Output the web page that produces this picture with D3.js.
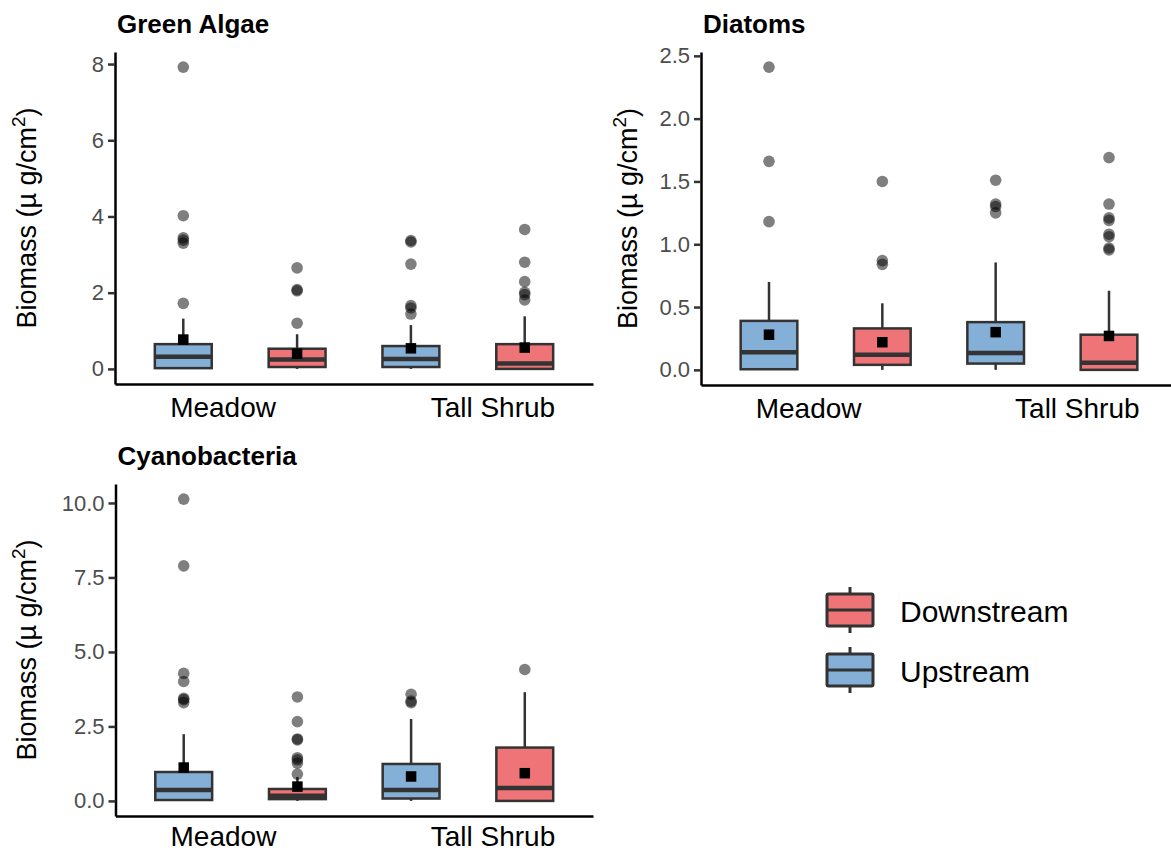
<!DOCTYPE html>
<html>
<head>
<meta charset="utf-8">
<script src="https://cdn.jsdelivr.net/npm/d3@7"></script>
<style>
  html, body { margin: 0; padding: 0; background: #ffffff; }
  svg { display: block; font-family: "Liberation Sans", Arial, Helvetica, sans-serif; }
</style>
</head>
<body>
<svg id="chart" width="1171" height="852"></svg>
<script>
// ---- groups along each panel's x axis (one box per site x stream) ----
const sites   = ["Meadow", "Meadow", "Tall Shrub", "Tall Shrub"];
const streams = ["Upstream", "Downstream", "Upstream", "Downstream"];
const siteLabels  = ["Meadow", "Tall Shrub"];
const siteLabelAt = [1.345, 3.716];          // x-axis label positions (group units)
const legendStreams = ["Downstream", "Upstream"];

// ---- Green Algae (µg/cm²) ----
const gaLow   = [0, 0, 0, 0];
const gaQ1    = [0.02, 0.05, 0.05, 0.00];
const gaMed   = [0.32, 0.25, 0.26, 0.14];
const gaQ3    = [0.65, 0.53, 0.60, 0.65];
const gaHigh  = [1.32, 0.91, 1.15, 1.38];
const gaMean  = [0.77, 0.40, 0.54, 0.56];
const gaOut   = [
  [7.92, 4.02, 3.44, 3.38, 3.30, 1.72],
  [2.65, 2.08, 2.05, 1.20],
  [3.37, 3.33, 2.75, 1.66, 1.60, 1.44],
  [3.66, 2.80, 2.29, 2.01, 1.95, 1.81]
];
const gaTicks = [0, 2, 4, 6, 8];

// ---- Diatoms ----
const diLow   = [0, 0, 0, 0];
const diQ1    = [0.005, 0.04, 0.05, 0.00];
const diMed   = [0.14, 0.12, 0.135, 0.056];
const diQ3    = [0.39, 0.33, 0.38, 0.28];
const diHigh  = [0.70, 0.53, 0.855, 0.63];
const diMean  = [0.28, 0.22, 0.30, 0.27];
const diOut   = [
  [2.41, 1.66, 1.18],
  [1.50, 0.87, 0.84],
  [1.51, 1.32, 1.30, 1.25],
  [1.69, 1.32, 1.21, 1.19, 1.08, 1.06, 0.97, 0.955]
];
const diTicks = [0, 0.5, 1.0, 1.5, 2.0, 2.5];

// ---- Cyanobacteria ----
const cyLow   = [0, 0, 0, 0];
const cyQ1    = [0.03, 0.06, 0.08, 0.00];
const cyMed   = [0.37, 0.17, 0.37, 0.43];
const cyQ3    = [0.97, 0.40, 1.24, 1.79];
const cyHigh  = [2.24, 0.80, 2.75, 3.65];
const cyMean  = [1.12, 0.48, 0.82, 0.93];
const cyOut   = [
  [10.13, 7.89, 4.28, 4.01, 3.44, 3.40, 3.30],
  [3.49, 2.66, 2.08, 2.05, 1.45, 1.38, 1.27, 0.90],
  [3.58, 3.35, 3.30],
  [4.41]
];
const cyTicks = [0, 2.5, 5.0, 7.5, 10.0];

// ---- styling ----
const fillFor = { Upstream: "#84AFD6", Downstream: "#EF7477" };
const lineCol = "#333333";
const tickTextCol = "#4D4D4D";

const svg = d3.select("#chart");

function buildBoxes(low, q1, med, q3, high, mean, out) {
  return sites.map((s, i) => ({
    pos: i + 1, site: s, stream: streams[i],
    low: low[i], q1: q1[i], med: med[i], q3: q3[i], high: high[i],
    mean: mean[i], out: out[i]
  }));
}

const panels = [
  { title: "Green Algae", boxes: buildBoxes(gaLow, gaQ1, gaMed, gaQ3, gaHigh, gaMean, gaOut),
    ticks: gaTicks, fmt: d3.format("d"),
    x0: 115, x1: 593, y0: 52, y1: 384, titleY: 33, yTitleX: 36, xLabDy: 33 },
  { title: "Diatoms", boxes: buildBoxes(diLow, diQ1, diMed, diQ3, diHigh, diMean, diOut),
    ticks: diTicks, fmt: d3.format(".1f"),
    x0: 701, x1: 1177, y0: 52, y1: 385, titleY: 33, yTitleX: 637, xLabDy: 33 },
  { title: "Cyanobacteria", boxes: buildBoxes(cyLow, cyQ1, cyMed, cyQ3, cyHigh, cyMean, cyOut),
    ticks: cyTicks, fmt: d3.format(".1f"),
    x0: 115.5, x1: 593, y0: 484, y1: 816, titleY: 465, yTitleX: 36, xLabDy: 30 }
];

function drawPanel(p) {
  const g = svg.append("g");
  const x = d3.scaleLinear().domain([0.4, 4.6]).range([p.x0, p.x1]);
  const allVals = p.boxes.flatMap(b => [b.low, b.high, b.mean, ...b.out]);
  const lo = d3.min(allVals), hi = d3.max(allVals);
  const pad = (hi - lo) * 0.05;
  const y = d3.scaleLinear().domain([lo - pad, hi + pad]).range([p.y1, p.y0]);
  const halfW = (x(1.25) - x(1));

  // title
  g.append("text")
    .attr("x", p.x0 + 2).attr("y", p.titleY)
    .attr("font-size", 26).attr("font-weight", "bold").attr("fill", "#000")
    .text(p.title);

  // y axis
  const yAxis = g.append("g")
    .attr("transform", `translate(${p.x0},0)`)
    .call(d3.axisLeft(y).tickValues(p.ticks).tickFormat(p.fmt)
      .tickSize(7).tickSizeOuter(0).tickPadding(4));
  yAxis.select(".domain").attr("stroke", "#000").attr("stroke-width", 2.5);
  yAxis.selectAll(".tick line").attr("stroke", lineCol).attr("stroke-width", 2.5);
  yAxis.selectAll(".tick text").attr("fill", tickTextCol)
    .attr("font-size", 22).attr("font-family", null);

  // x axis
  const xAxis = g.append("g")
    .attr("transform", `translate(0,${p.y1})`)
    .call(d3.axisBottom(x).tickValues(siteLabelAt)
      .tickFormat((d, i) => siteLabels[i])
      .tickSize(0).tickSizeOuter(0).tickPadding(0));
  xAxis.select(".domain").attr("stroke", "#000").attr("stroke-width", 2.5);
  xAxis.selectAll(".tick text").attr("fill", "#000")
    .attr("font-size", 28).attr("font-family", null)
    .attr("y", p.xLabDy).attr("dy", null);

  // y axis title
  const yt = g.append("text")
    .attr("transform", `translate(${p.yTitleX},${(p.y0 + p.y1) / 2}) rotate(-90)`)
    .attr("text-anchor", "middle").attr("font-size", 27).attr("fill", "#000");
  yt.append("tspan").text("Biomass (\u00B5 g/cm");
  yt.append("tspan").attr("font-size", 19).attr("dy", -11).text("2");
  yt.append("tspan").attr("dy", 11).text(")");

  const box = g.selectAll("g.box").data(p.boxes).join("g").attr("class", "box");

  // whiskers
  box.append("line")
    .attr("x1", d => x(d.pos)).attr("x2", d => x(d.pos))
    .attr("y1", d => y(d.q3)).attr("y2", d => y(d.high))
    .attr("stroke", lineCol).attr("stroke-width", 2.5);
  box.append("line")
    .attr("x1", d => x(d.pos)).attr("x2", d => x(d.pos))
    .attr("y1", d => y(d.q1)).attr("y2", d => y(d.low))
    .attr("stroke", lineCol).attr("stroke-width", 2.5);

  // boxes
  box.append("rect")
    .attr("x", d => x(d.pos) - halfW).attr("width", halfW * 2)
    .attr("y", d => y(d.q3)).attr("height", d => y(d.q1) - y(d.q3))
    .attr("fill", d => fillFor[d.stream])
    .attr("stroke", lineCol).attr("stroke-width", 2.5);

  // medians
  box.append("line")
    .attr("x1", d => x(d.pos) - halfW).attr("x2", d => x(d.pos) + halfW)
    .attr("y1", d => y(d.med)).attr("y2", d => y(d.med))
    .attr("stroke", lineCol).attr("stroke-width", 4.5);

  // outliers
  box.selectAll("circle").data(d => d.out.map(v => ({ pos: d.pos, v })))
    .join("circle")
    .attr("cx", d => x(d.pos)).attr("cy", d => y(d.v)).attr("r", 5.8)
    .attr("fill", "#000").attr("fill-opacity", 0.5);

  // means
  const s = 10.5;
  box.append("rect")
    .attr("x", d => x(d.pos) - s / 2).attr("y", d => y(d.mean) - s / 2)
    .attr("width", s).attr("height", s).attr("fill", "#000");
}

panels.forEach(drawPanel);

// ---- legend ----
const legend = svg.append("g").attr("transform", "translate(827,587)");
const keyW = 46, keyH = 32, rowGap = 60;
const item = legend.selectAll("g").data(legendStreams).join("g")
  .attr("transform", (d, i) => `translate(0,${i * rowGap})`);
item.append("line")
  .attr("x1", keyW / 2).attr("x2", keyW / 2).attr("y1", 0).attr("y2", keyH + 14)
  .attr("stroke", lineCol).attr("stroke-width", 3);
item.append("rect")
  .attr("x", 0).attr("y", 7).attr("width", keyW).attr("height", keyH)
  .attr("rx", 1.5)
  .attr("fill", d => fillFor[d]).attr("stroke", lineCol).attr("stroke-width", 3);
item.append("line")
  .attr("x1", 0).attr("x2", keyW).attr("y1", 7 + keyH / 2).attr("y2", 7 + keyH / 2)
  .attr("stroke", lineCol).attr("stroke-width", 3);
item.append("text")
  .attr("x", 73).attr("y", 35)
  .attr("font-size", 30).attr("fill", "#000")
  .text(d => d);
</script>
</body>
</html>
